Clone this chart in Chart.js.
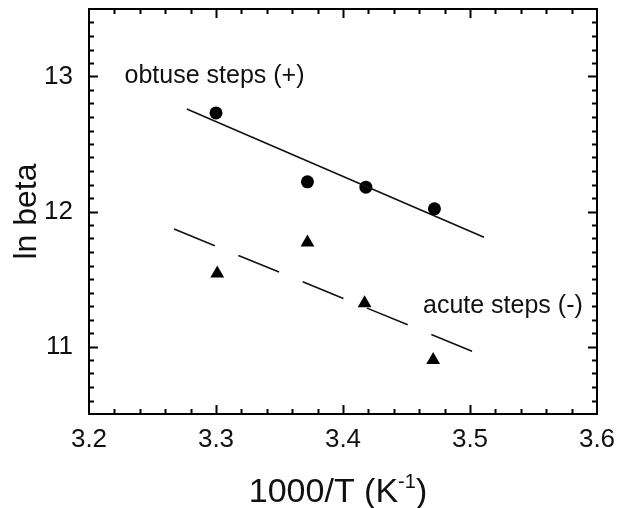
<!DOCTYPE html>
<html>
<head>
<meta charset="utf-8">
<script src="https://cdn.jsdelivr.net/npm/chart.js"></script>
<style>
  html, body { margin: 0; padding: 0; background: #fff; }
</style>
</head>
<body>
<canvas id="myChart" width="628" height="508"></canvas>
<script>
// Measured points (1000/T vs ln beta)
const obtuseX = [3.300, 3.372, 3.418, 3.472];
const obtuseY = [12.73, 12.22, 12.18, 12.02];
const acuteX = [3.301, 3.372, 3.417, 3.471];
const acuteY = [11.54, 11.77, 11.32, 10.90];

// Fitted lines, end points
const obtuseFitX = [3.277, 3.511];
const obtuseFitY = [12.76, 11.81];
const acuteFitX = [3.267, 3.503];
const acuteFitY = [11.87, 10.96];

// Tick labels
const xTicks = [3.2, 3.3, 3.4, 3.5, 3.6];
const yTicks = [11, 12, 13];

// Annotation texts
const labelText = ['obtuse steps (+)', 'acute steps (-)'];

const FONT = '"Liberation Sans", Arial, Helvetica, sans-serif';

const toPoints = (xs, ys) => xs.map((v, i) => ({ x: v, y: ys[i] }));

// Frame with inward ticks on all sides, labels, and the x title with a superscript
const framePlugin = {
    id: 'frame',
    afterDatasetsDraw(chart) {
        const { ctx, chartArea: a, scales: { x, y } } = chart;
        ctx.save();
        ctx.strokeStyle = '#000';
        ctx.lineWidth = 2;
        ctx.strokeRect(a.left, a.top, a.right - a.left, a.bottom - a.top);

        // x ticks: minor every 0.02, major every 0.1
        const nx = Math.round((x.max - x.min) / 0.02);
        for (let i = 1; i < nx; i++) {
            const px = Math.round(x.getPixelForValue(x.min + i * 0.02)) + 0.5;
            const len = i % 5 === 0 ? 9 : 5;
            ctx.beginPath();
            ctx.moveTo(px, a.bottom); ctx.lineTo(px, a.bottom - len);
            ctx.moveTo(px, a.top); ctx.lineTo(px, a.top + len);
            ctx.stroke();
        }
        // y ticks: minor every 0.1, major every 1
        const ny = Math.round((y.max - y.min) / 0.1);
        for (let i = 1; i < ny; i++) {
            const v = y.min + i * 0.1;
            const py = Math.round(y.getPixelForValue(v)) + 0.5;
            const major = Math.abs(v - Math.round(v)) < 1e-6;
            const len = major ? 9 : 5;
            ctx.beginPath();
            ctx.moveTo(a.left, py); ctx.lineTo(a.left + len, py);
            ctx.moveTo(a.right, py); ctx.lineTo(a.right - len, py);
            ctx.stroke();
        }

        // annotations
        ctx.fillStyle = '#111';
        ctx.font = '25px ' + FONT;
        ctx.textBaseline = 'alphabetic';
        ctx.textAlign = 'left';
        ctx.fillText(labelText[0], x.getPixelForValue(3.228), y.getPixelForValue(12.955));
        ctx.fillText(labelText[1], x.getPixelForValue(3.463), y.getPixelForValue(11.25));

        // x axis title: 1000/T (K^-1)
        const big = '34px ' + FONT, small = '20px ' + FONT;
        const parts = [['1000/T (K', big, 0], ['-1', small, -14], [')', big, 0]];
        let total = 0;
        parts.forEach(p => { ctx.font = p[1]; total += ctx.measureText(p[0]).width; });
        let cx = (a.left + a.right) / 2 - total / 2 - 5;
        const base = x.bottom - 6;
        parts.forEach(p => {
            ctx.font = p[1];
            ctx.fillText(p[0], cx, base + p[2]);
            cx += ctx.measureText(p[0]).width;
        });
        ctx.restore();
    }
};

const ctx = document.getElementById('myChart').getContext('2d');
const myChart = new Chart(ctx, {
    type: 'scatter',
    data: {
        datasets: [
            {
                label: 'obtuse fit',
                data: toPoints(obtuseFitX, obtuseFitY),
                showLine: true,
                borderColor: '#111',
                borderWidth: 1.6,
                pointRadius: 0
            },
            {
                label: 'acute fit',
                data: toPoints(acuteFitX, acuteFitY),
                showLine: true,
                borderColor: '#111',
                borderWidth: 1.6,
                borderDash: [44, 25.5],
                pointRadius: 0
            },
            {
                label: 'obtuse steps (+)',
                data: toPoints(obtuseX, obtuseY),
                pointStyle: 'circle',
                pointRadius: 6.5,
                backgroundColor: '#000',
                borderColor: '#000',
                borderWidth: 0
            },
            {
                label: 'acute steps (-)',
                data: toPoints(acuteX, acuteY),
                pointStyle: 'triangle',
                pointRadius: 8,
                backgroundColor: '#000',
                borderColor: '#000',
                borderWidth: 0
            }
        ]
    },
    options: {
        responsive: false,
        animation: false,
        devicePixelRatio: 1,
        layout: { padding: { top: 9, right: 31, bottom: 0, left: 0 } },
        plugins: {
            legend: { display: false },
            tooltip: { enabled: false }
        },
        scales: {
            x: {
                type: 'linear',
                min: 3.2,
                max: 3.6,
                grid: { display: false, drawTicks: false },
                border: { display: false },
                afterBuildTicks: s => { s.ticks = xTicks.map(v => ({ value: v })); },
                afterFit: s => { s.height = 94; s.paddingLeft = 0; s.paddingRight = 0; },
                ticks: {
                    padding: 10,
                    color: '#111',
                    font: { size: 26, family: FONT },
                    callback: v => v.toFixed(1)
                }
            },
            y: {
                type: 'linear',
                min: 10.5,
                max: 13.5,
                grid: { display: false, drawTicks: false },
                border: { display: false },
                afterBuildTicks: s => { s.ticks = yTicks.map(v => ({ value: v })); },
                afterFit: s => { s.width = 89; s.paddingTop = 0; s.paddingBottom = 0; },
                ticks: {
                    padding: 16,
                    color: '#111',
                    font: { size: 26, family: FONT },
                    callback: v => String(v)
                },
                title: {
                    display: true,
                    text: 'ln beta',
                    color: '#111',
                    font: { size: 32, family: FONT },
                    padding: { top: 8, bottom: 0 }
                }
            }
        }
    },
    plugins: [framePlugin]
});
</script>
</body>
</html>
